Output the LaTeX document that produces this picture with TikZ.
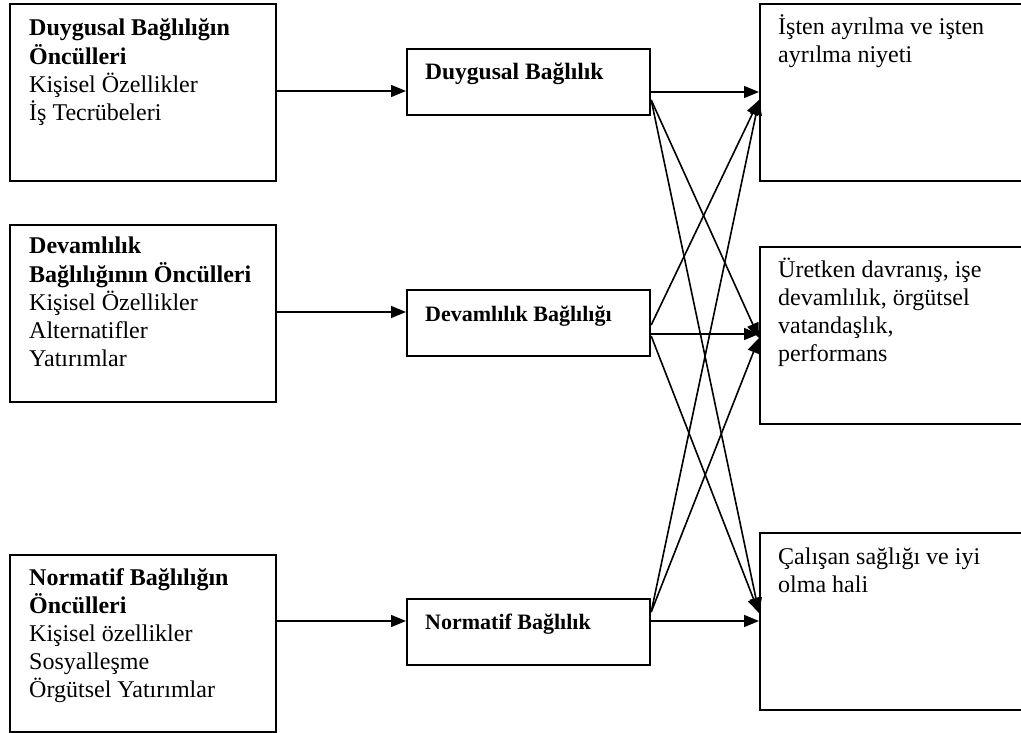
\documentclass[tikz,border=0pt]{standalone}
\usepackage{fontspec}
\setmainfont{Liberation Serif}
\usetikzlibrary{arrows.meta,calc}
\begin{document}
\begin{tikzpicture}[x=1pt,y=-1pt,
  box/.style={draw,line width=2.2pt,inner sep=0pt,anchor=north west},
  srcbox/.style={box,minimum width=266pt,minimum height=177pt},
  midbox/.style={box,minimum width=243pt,minimum height=66pt},
  outbox/.style={box,minimum width=280pt,minimum height=177pt},
  txt/.style={anchor=base west,inner sep=0pt,font={\fontsize{24}{28}\selectfont}},
  midtxt/.style={anchor=base west,inner sep=0pt,font={\fontsize{22}{28}\selectfont\bfseries}},
  link/.style={line width=1.6pt,-{Triangle[length=15pt,width=12pt]}}]
\useasboundingbox (0,0) rectangle (1021,733);
\clip (0,0) rectangle (1021,733);

% antecedent boxes
\node[srcbox] (L1) at (9,3) {};
\node[srcbox] (L2) at (9,224) {};
\node[srcbox] (L3) at (9,554) {};
% commitment boxes
\node[midbox] (M1) at (406,48) {};
\node[midbox] (M2) at (406,289) {};
\node[midbox] (M3) at (406,598) {};
% outcome boxes (run past the right edge)
\node[outbox] (R1) at (759,3) {};
\node[outbox] (R2) at (759,246) {};
\node[outbox] (R3) at (759,532) {};

% texts
\node[txt] (tL1) at (29,36) {\begin{tabular}[t]{@{}l@{}}\textbf{Duygusal Bağlılığın}\\ \textbf{Öncülleri}\\ Kişisel Özellikler\\ İş Tecrübeleri\end{tabular}};
\node[txt] (tL2) at (29,254) {\begin{tabular}[t]{@{}l@{}}\textbf{Devamlılık}\\ \textbf{Bağlılığının Öncülleri}\\ Kişisel Özellikler\\ Alternatifler\\ Yatırımlar\end{tabular}};
\node[txt] (tL3) at (29,585) {\begin{tabular}[t]{@{}l@{}}\textbf{Normatif Bağlılığın}\\ \textbf{Öncülleri}\\ Kişisel özellikler\\ Sosyalleşme\\ Örgütsel Yatırımlar\end{tabular}};

\node[midtxt,font={\fontsize{23.5}{28}\selectfont\bfseries}] (tM1) at (425,80) {Duygusal Bağlılık};
\node[midtxt] (tM2) at (425,321) {Devamlılık Bağlılığı};
\node[midtxt] (tM3) at (425,629) {Normatif Bağlılık};

\node[txt] (tR1) at (778,35) {\begin{tabular}[t]{@{}l@{}}İşten ayrılma ve işten\\ ayrılma niyeti\end{tabular}};
\node[txt] (tR2) at (778,277) {\begin{tabular}[t]{@{}l@{}}Üretken davranış, işe\\ devamlılık, örgütsel\\ vatandaşlık,\\ performans\end{tabular}};
\node[txt] (tR3) at (778,564) {\begin{tabular}[t]{@{}l@{}}Çalışan sağlığı ve iyi\\ olma hali\end{tabular}};

% antecedents -> commitment types
\draw[link] ($(L1.north east)+(0,88)$) -- ($(M1.north west)+(0,43)$);
\draw[link] ($(L2.north east)+(0,88)$) -- ($(M2.north west)+(0,23)$);
\draw[link] ($(L3.north east)+(0,67)$) -- ($(M3.north west)+(0,23)$);

% commitment types -> outcomes
\draw[link] ($(M1.north east)+(0,44)$) -- ($(R1.north west)+(0,89)$);
\draw[link] ($(M2.north east)+(0,45)$) -- ($(R2.north west)+(0,88)$);
\draw[link] ($(M3.north east)+(0,23)$) -- ($(R3.north west)+(0,89)$);

\draw[link] ($(M1.north east)+(0,52)$) -- ($(R2.north west)+(0,92)$);
\draw[link] ($(M1.north east)+(0,52)$) -- ($(R3.north west)+(0,81)$);
\draw[link] ($(M2.north east)+(0,36)$) -- ($(R1.north west)+(0,97)$);
\draw[link] ($(M2.north east)+(0,47)$) -- ($(R3.north west)+(0,81)$);
\draw[link] ($(M3.north east)+(0,14)$) -- ($(R1.north west)+(0,97)$);
\draw[link] ($(M3.north east)+(0,14)$) -- ($(R2.north west)+(0,92)$);
\end{tikzpicture}
\end{document}
